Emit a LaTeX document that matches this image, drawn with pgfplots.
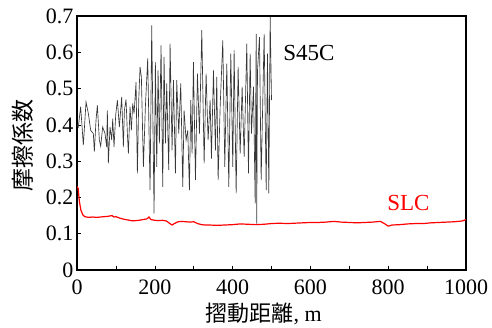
\documentclass[border=0pt]{standalone}
\usepackage{pgfplots}
\pgfplotsset{compat=1.18}
\usepackage{fontspec}
\setmainfont{Liberation Serif}
\newfontfamily\cjk{Noto Sans CJK JP}
\begin{document}
\begin{tikzpicture}
\useasboundingbox (0pt,0pt) rectangle (492pt,327pt);
\begin{axis}[
  at={(77pt,57pt)}, anchor=south west,
  scale only axis, width=389pt, height=254pt,
  xmin=0, xmax=1000, ymin=0, ymax=0.7,
  axis line style={line width=1.3pt},
  xtick={0,200,400,600,800,1000}, minor xtick={100,300,500,700,900},
  xticklabels={0,200,400,600,800,1000},
  ytick={0,0.1,0.2,0.3,0.4,0.5,0.6,0.7},
  yticklabels={0,0.1,0.2,0.3,0.4,0.5,0.6,0.7},
  tick pos=left, tick align=inside,
  major tick length=4pt, minor tick length=4pt,
  every tick/.style={black, line width=0.6pt},
  ticklabel style={font=\rmfamily\fontsize{22}{26}\selectfont},
  xticklabel style={yshift=-6pt},
  xlabel={{\cjk 摺動距離}, m},
  xlabel style={font=\fontsize{22}{26}\selectfont, at={(axis description cs:0.48,0)}, anchor=center, yshift=-44pt},
  ylabel={\cjk 摩擦係数},
  ylabel style={font=\fontsize{23}{26}\selectfont, at={(axis description cs:-0.139,0.49)}, anchor=center},
  clip=true,
]
\addplot[color={rgb,255:red,55;green,55;blue,55}, line width=0.65pt] coordinates {
(0,0.40)(3.4,0.394)(9.4,0.450)(16.3,0.344)(23.2,0.463)(29.2,0.431)(35.2,0.385)(42,0.376)(44.6,0.326)(48.9,0.413)(52.3,0.454)(57.5,0.358)(60.9,0.341)(66,0.394)(72,0.376)(76.3,0.339)(78,0.440)(80.6,0.294)(84.9,0.394)(89.2,0.358)(91.8,0.417)(95.2,0.339)(99.5,0.427)(103.8,0.468)(108.9,0.394)(114.9,0.477)(119.2,0.339)(121.8,0.440)(126.1,0.470)(129.5,0.376)(132.1,0.321)(136.4,0.450)(139.8,0.385)(143.2,0.459)(146.7,0.431)(151.8,0.518)(155.2,0.266)(158.7,0.468)(162.1,0.560)(165.5,0.532)(170.7,0.284)(175.8,0.45)(181.8,0.583)(187.8,0.220)(192.1,0.674)(198.1,0.156)(201.5,0.573)(205,0.284)(208.4,0.550)(211.8,0.349)(216.1,0.619)(220.4,0.229)(223.8,0.587)(227.3,0.349)(230.7,0.514)(235.8,0.275)(239.3,0.624)(244.4,0.330)(247.9,0.523)(253,0.266)(256.4,0.523)(261.6,0.376)(266.7,0.514)(271.9,0.229)(275.3,0.440)(280.4,0.358)(284.7,0.385)(289,0.220)(292.5,0.468)(295.9,0.321)(299.3,0.573)(304.5,0.248)(309.6,0.541)(314.8,0.376)(320.8,0.661)(326.8,0.294)(331.9,0.541)(337,0.358)(342.2,0.468)(345.6,0.307)(350.8,0.550)(355.9,0.330)(359.3,0.532)(362.8,0.248)(368,0.45)(374.8,0.633)(379.9,0.284)(385.1,0.569)(390.2,0.229)(395.4,0.596)(400.5,0.284)(403.9,0.606)(409.1,0.211)(414.2,0.560)(419.4,0.321)(424.5,0.505)(429.7,0.312)(436.5,0.624)(440.8,0.266)(445.1,0.596)(448.5,0.376)(453.7,0.505)(458,0.183)(460.6,0.651)(462,0.128)(464,0.55)(469.1,0.642)(473.4,0.248)(481.1,0.651)(486.3,0.220)(489.7,0.596)(493.1,0.211)(496.6,0.697)(500,0.468)
};
\addplot[red, line width=1.2pt] coordinates {
(0,0.23)(3,0.225)(6,0.19)(10,0.165)(15,0.152)(20,0.147)(30,0.145)(40,0.146)(50,0.145)(60,0.146)(70,0.147)(80,0.148)(90,0.15)(95,0.146)(100,0.147)(110,0.143)(120,0.14)(130,0.138)(140,0.136)(150,0.136)(160,0.137)(170,0.139)(180,0.141)(185,0.146)(190,0.139)(200,0.137)(210,0.136)(220,0.137)(230,0.135)(240,0.127)(245,0.124)(250,0.128)(260,0.133)(270,0.134)(280,0.133)(290,0.132)(300,0.133)(310,0.128)(320,0.125)(330,0.124)(340,0.124)(360,0.123)(380,0.124)(400,0.125)(420,0.127)(440,0.126)(460,0.125)(480,0.126)(500,0.128)(520,0.129)(540,0.128)(560,0.129)(580,0.130)(600,0.131)(620,0.131)(640,0.132)(660,0.134)(680,0.132)(700,0.131)(720,0.130)(740,0.131)(760,0.132)(780,0.134)(790,0.128)(800,0.121)(810,0.124)(830,0.125)(850,0.127)(870,0.128)(890,0.128)(910,0.130)(930,0.131)(950,0.132)(970,0.133)(990,0.135)(1000,0.139)
};
\node[font=\fontsize{23}{26}\selectfont, black] at (axis cs:596,0.597) {S45C};
\node[font=\fontsize{23}{26}\selectfont, red] at (axis cs:852,0.185) {SLC};
\end{axis}
\end{tikzpicture}
\end{document}
